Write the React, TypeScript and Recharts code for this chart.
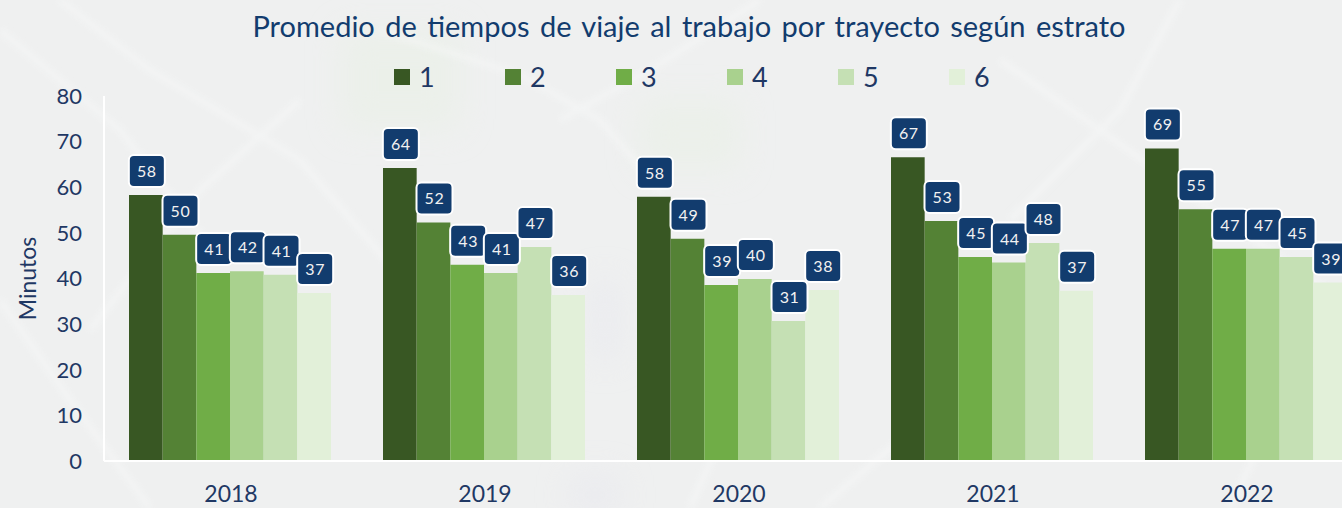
import { BarChart, Bar, XAxis, YAxis, Legend, LabelList } from 'recharts'

const years = ['2018', '2019', '2020', '2021', '2022']
const estrato1 = [58.3, 64.2, 57.9, 66.6, 68.5]
const estrato2 = [49.6, 52.3, 48.7, 52.6, 55.2]
const estrato3 = [41.2, 43, 38.6, 44.7, 46.5]
const estrato4 = [41.6, 41.2, 39.9, 43.5, 46.5]
const estrato5 = [40.8, 46.9, 30.7, 47.8, 44.7]
const estrato6 = [36.8, 36.4, 37.5, 37.3, 39.1]
const yTicks = [0, 10, 20, 30, 40, 50, 60, 70, 80]

const seriesColors = ['#385723', '#548235', '#70AD47', '#A9D18E', '#C5E0B4', '#E2F0D9']
const seriesNames = ['1', '2', '3', '4', '5', '6']
const seriesValues = [estrato1, estrato2, estrato3, estrato4, estrato5, estrato6]

const data = years.map((year, i) => {
  const row: Record<string, string | number> = { year }
  seriesNames.forEach((name, s) => {
    row[name] = seriesValues[s][i]
  })
  return row
})

// faint map texture behind the chart
const streaks = [
  'M0 30 L120 130 L220 260',
  'M60 0 L150 70 L300 160 L420 300',
  'M300 100 L200 190 L90 330',
  'M380 30 L520 75 L600 120 L660 190',
  'M560 120 L650 70 L760 0',
  'M0 300 L70 400 L150 508',
  'M690 508 L720 440 L780 380',
  'M1000 60 L1100 130 L1240 230 L1342 300',
  'M1180 0 L1120 110 L1010 220',
  'M820 508 L900 440 L1010 400',
  'M1230 508 L1290 380 L1342 330',
]

const FONT = 'Lato, sans-serif'
const TEXT = '#1F3864'
const NAVY = '#123C6E'

function MapTexture() {
  return (
    <svg width={1342} height={508} style={{ position: 'absolute', left: 0, top: 0 }}>
      <defs>
        <filter id="soft" x="-50%" y="-50%" width="200%" height="200%">
          <feGaussianBlur stdDeviation="16" />
        </filter>
        <filter id="softLine" x="-10%" y="-10%" width="120%" height="120%">
          <feGaussianBlur stdDeviation="3" />
        </filter>
      </defs>
      <g filter="url(#soft)" opacity={0.5}>
        <rect x={340} y={30} width={120} height={100} fill="#E8F0E4" />
        <rect x={640} y={100} width={100} height={70} fill="#E8F0E4" />
        <rect x={590} y={280} width={30} height={80} fill="#E6E6EE" />
        <rect x={570} y={475} width={50} height={40} fill="#E6E6EE" />
      </g>
      <g filter="url(#softLine)" fill="none" stroke="#F8F9F9" strokeWidth={6} opacity={0.5}>
        {streaks.map((d) => (
          <path key={d} d={d} />
        ))}
      </g>
    </svg>
  )
}

function ValueLabel({ x, y, width, value }: any) {
  const w = 36
  const h = 32
  const cx = x + width / 2 + 1
  return (
    <g>
      <rect x={cx - w / 2} y={y - h - 8} width={w} height={h} rx={5} fill={NAVY} stroke="#fff" strokeWidth={2} />
      <text
        x={cx}
        y={y - 8 - h / 2 + 6}
        textAnchor="middle"
        fontSize={16}
        letterSpacing={0.6}
        fontFamily={FONT}
        fill="#F2F2F2"
      >
        {Math.round(value)}
      </text>
    </g>
  )
}

function StratumLegend({ payload }: any) {
  return (
    <div style={{ display: 'flex', fontFamily: FONT, fontSize: 27, color: TEXT, lineHeight: '30px' }}>
      {(payload || []).map((item: any) => (
        <div key={item.value} style={{ width: 111, display: 'flex', alignItems: 'center' }}>
          <span style={{ width: 16, height: 16, background: item.color, marginRight: 9 }} />
          {item.value}
        </div>
      ))}
    </div>
  )
}

export default function App() {
  return (
    <div
      style={{
        position: 'absolute',
        left: 0,
        top: 0,
        width: 1342,
        height: 508,
        overflow: 'hidden',
        background: '#EFF0F0',
      }}
    >
      <MapTexture />
      <div
        style={{
          position: 'absolute',
          left: 0,
          width: 1378,
          top: 9,
          textAlign: 'center',
          fontFamily: FONT,
          fontSize: 29,
          wordSpacing: 3,
          lineHeight: '34px',
          color: '#123C6E',
          whiteSpace: 'nowrap',
        }}
      >
        Promedio de tiempos de viaje al trabajo por trayecto según estrato
      </div>
      <BarChart
        width={1400}
        height={508}
        data={data}
        margin={{ top: 96, right: 26, bottom: 0, left: 0 }}
        barSize={33.67}
        barGap={0}
      >
        <XAxis
          dataKey="year"
          axisLine={{ stroke: '#fff', strokeWidth: 2 }}
          tickLine={false}
          height={47}
          padding={{ left: -1, right: 1 }}
          tick={{ fontSize: 23, fontFamily: FONT, fill: TEXT, dx: 1 }}
          tickMargin={19}
        />
        <YAxis
          domain={[0, 80]}
          ticks={yTicks}
          interval={0}
          width={104}
          axisLine={{ stroke: '#fff', strokeWidth: 2 }}
          tickLine={false}
          tick={{ fontSize: 22, fontFamily: FONT, fill: TEXT }}
          tickMargin={16}
          label={{
            value: 'Minutos',
            angle: -90,
            position: 'insideLeft',
            offset: 28,
            style: { fontSize: 23, fontFamily: FONT, fill: TEXT, textAnchor: 'middle' },
          }}
        />
        <Legend
          layout="horizontal"
          verticalAlign="middle"
          content={<StratumLegend />}
          wrapperStyle={{ left: 394, top: 62, width: 700 }}
        />
        {seriesNames.map((name, s) => (
          <Bar key={name} dataKey={name} name={name} fill={seriesColors[s]} isAnimationActive={false}>
            <LabelList dataKey={name} content={<ValueLabel />} />
          </Bar>
        ))}
      </BarChart>
    </div>
  )
}
